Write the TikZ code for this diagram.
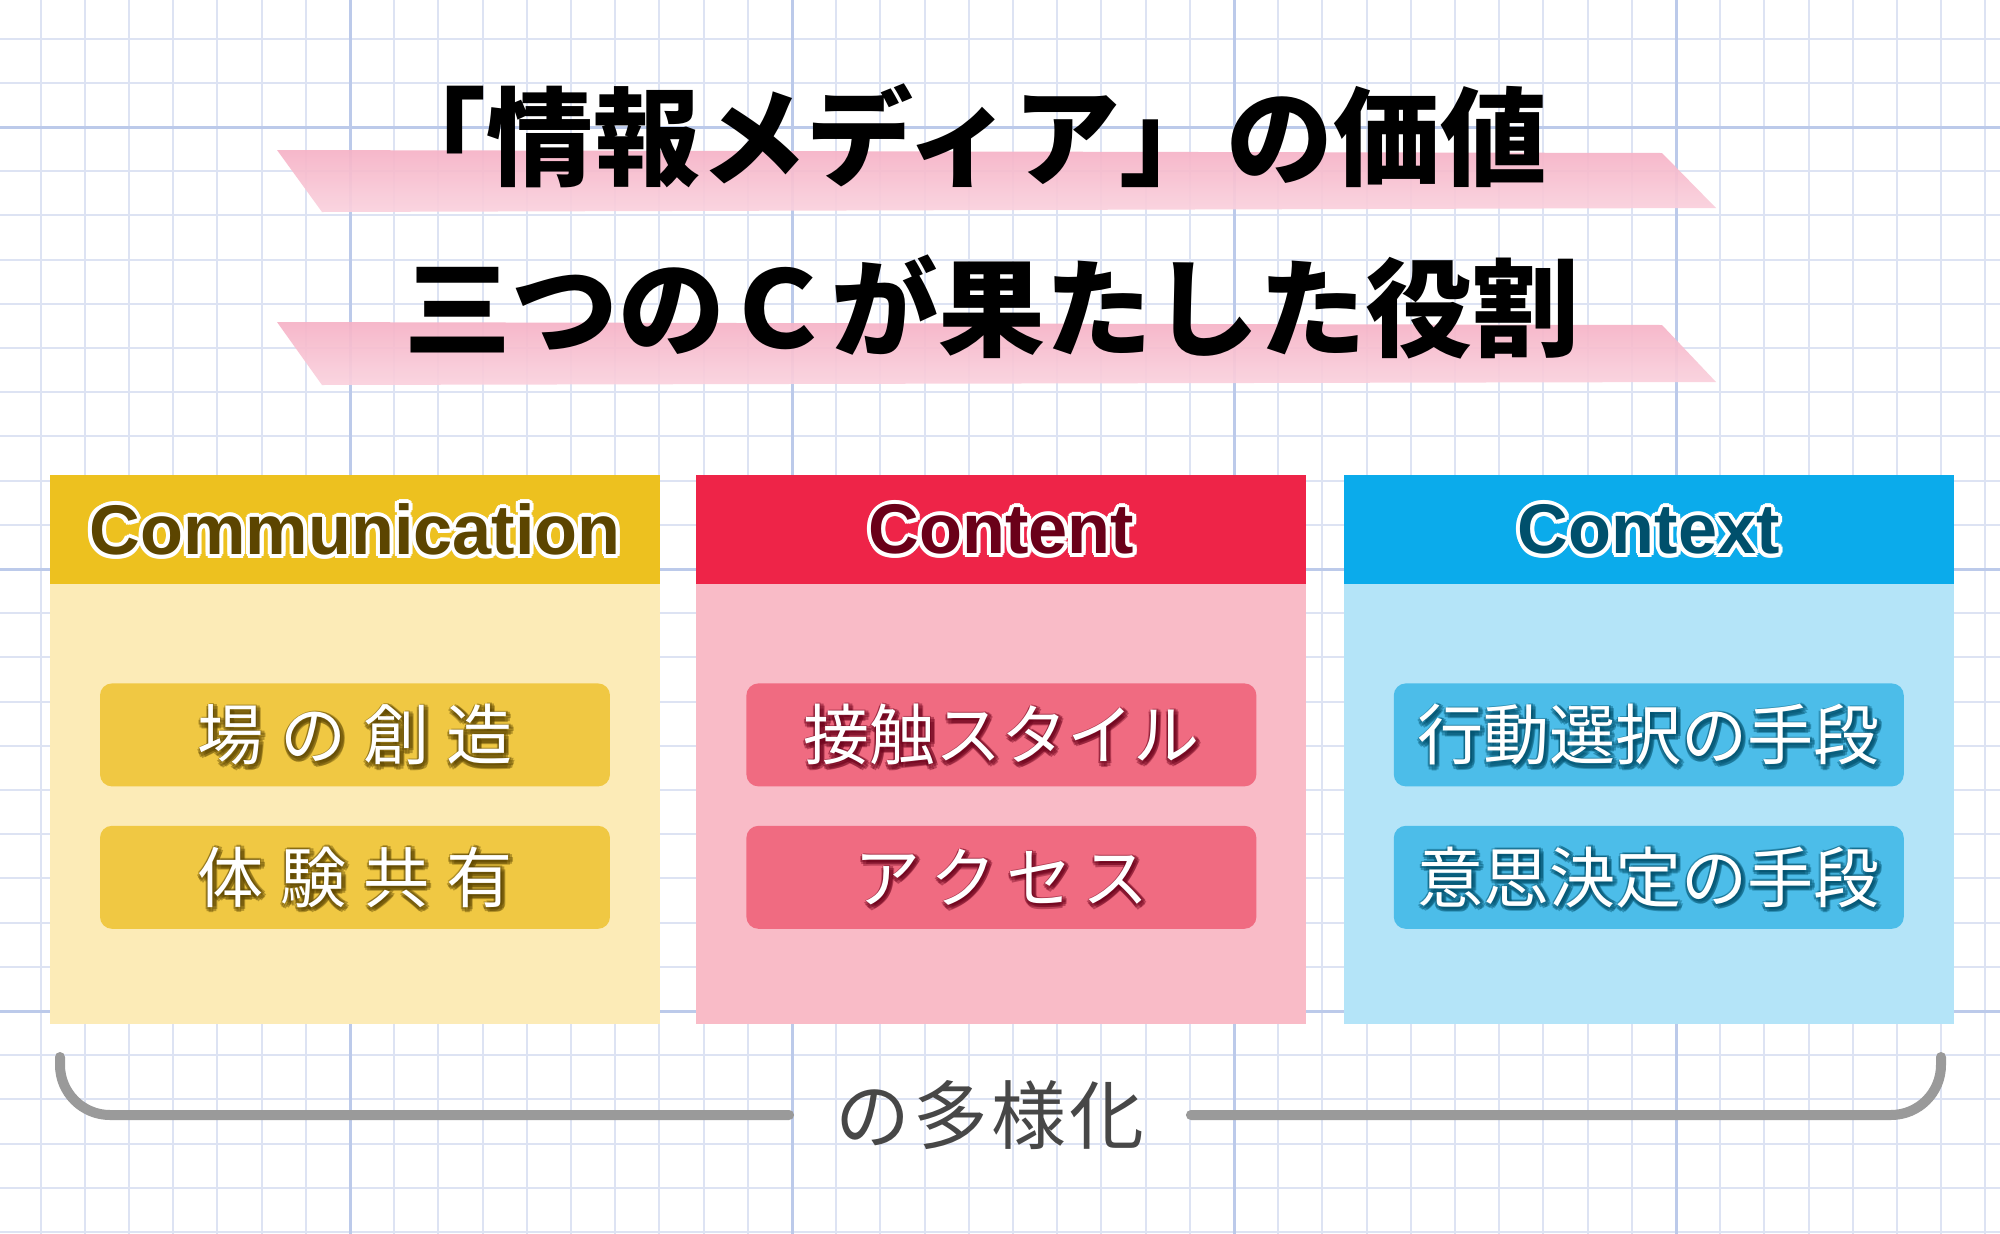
\documentclass[tikz,border=0pt]{standalone}
\usepackage{fontspec}
\setmainfont{Liberation Sans}
\newfontfamily\jpfont{Noto Sans CJK JP}
\usetikzlibrary{calc,positioning}

\definecolor{gridminor}{HTML}{DDE3F3}
\definecolor{gridmajor}{HTML}{BCCAEA}
\definecolor{brushtop}{HTML}{F6B2C6}
\definecolor{brushmid}{HTML}{F394B0}
\definecolor{brushbot}{HTML}{FAD2DE}
\definecolor{comhead}{HTML}{EDC11F}
\definecolor{combody}{HTML}{FCEBB7}
\definecolor{compill}{HTML}{F0C843}
\definecolor{comdark}{HTML}{5C4500}
\definecolor{conhead}{HTML}{EE2448}
\definecolor{conbody}{HTML}{F9BBC7}
\definecolor{conpill}{HTML}{F06B81}
\definecolor{condark}{HTML}{6A0019}
\definecolor{ctxhead}{HTML}{0BABEB}
\definecolor{ctxbody}{HTML}{B4E4F8}
\definecolor{ctxpill}{HTML}{4CBDE9}
\definecolor{ctxdark}{HTML}{00506C}
\definecolor{bracketgray}{HTML}{9A9A9A}
\definecolor{labelgray}{HTML}{474747}

% white ring round a text
\newcommand{\halo}[4]{%
  \foreach \a in {0,30,...,330}
    \node[#1,text=#3] at ($(#2)+(\a:4)$) {#4};}
% soft dark shadow under a text
\newcommand{\glow}[4]{%
  \foreach \a in {0,45,...,315}
    \node[#1,text=#3,text opacity=0.4] at ($(#2)+(1.5,2)+(\a:3.5)$) {#4};}

\begin{document}
\begin{tikzpicture}[x=0.1mm,y=-0.1mm,
  minor/.style={gridminor,line width=0.2mm},
  major/.style={gridmajor,line width=0.3mm},
  title/.style={font=\jpfont\bfseries\fontsize{30.4}{36}\selectfont,inner sep=0pt},
  headtxt/.style={font=\bfseries\fontsize{20}{24}\selectfont,inner sep=0pt},
  itemtxt/.style={font=\jpfont\fontsize{18.8}{22}\selectfont,inner sep=0pt},
  colbox/.style={minimum width=61mm,minimum height=54.9mm,inner sep=0pt},
  head/.style={minimum width=61mm,minimum height=10.9mm,inner sep=0pt},
  pill/.style={rounded corners=1.2mm,minimum width=51mm,minimum height=10.3mm,inner sep=0pt},
  bracket/.style={bracketgray,line width=1mm,rounded corners=5mm,line cap=round}]

\useasboundingbox (0,0) rectangle (2000,1234);
\fill[white] (0,0) rectangle (2000,1234);

% grid paper
\foreach \k in {-7,...,37}
  \draw[minor] ({350+44.2*\k},0) -- ++(0,1234);
\foreach \k in {-2,...,25}
  \draw[minor] (0,{127+44.2*\k}) -- ++(2000,0);
\foreach \k in {0,...,3}
  \draw[major] ({350+442*\k},0) -- ++(0,1234);
\foreach \k in {0,1,2}
  \draw[major] (0,{127+442*\k}) -- ++(2000,0);

% marker strokes
\shade[top color=brushtop, middle color=brushmid, bottom color=brushbot, fill opacity=0.92]
  (277,150) -- (1662,153) -- (1716,208) -- (322,212) -- cycle;
\shade[top color=brushtop, middle color=brushmid, bottom color=brushbot, fill opacity=0.92]
  (277,322) -- (1662,325) -- (1716,382) -- (322,385) -- cycle;

\node[title,anchor=east] (ttl1) at (1548,136) {「情報メディア」の価値};
\node[title] (ttl2) at (992,307) {三つのＣが果たした役割};

% columns
\node[colbox,fill=combody] (b1) at (355,749.5) {};
\node[colbox,fill=conbody,right=3.5mm of b1] (b2) {};
\node[colbox,fill=ctxbody,right=3.6mm of b2] (b3) {};

\node[head,fill=comhead,anchor=north] (h1) at (b1.north) {};
\node[head,fill=conhead,anchor=north] (h2) at (b2.north) {};
\node[head,fill=ctxhead,anchor=north] (h3) at (b3.north) {};

\halo{headtxt}{h1}{white}{Communication}
\node[headtxt,text=comdark] (com) at (h1) {Communication};
\halo{headtxt}{h2}{white}{Content}
\node[headtxt,text=condark] (con) at (h2) {Content};
\halo{headtxt}{h3}{white}{Context}
\node[headtxt,text=ctxdark] (ctx) at (h3) {Context};

\node[pill,fill=compill,below=9.8mm of h1] (p11) {};
\node[pill,fill=compill,below=3.8mm of p11] (p12) {};
\node[pill,fill=conpill,below=9.8mm of h2] (p21) {};
\node[pill,fill=conpill,below=3.8mm of p21] (p22) {};
\node[pill,fill=ctxpill,below=9.8mm of h3] (p31) {};
\node[pill,fill=ctxpill,below=3.8mm of p31] (p32) {};

\glow{itemtxt}{p11}{comdark}{場\kern1.7mm の\kern1.7mm 創\kern1.7mm 造}
\node[itemtxt,text=white] (t11) at (p11) {場\kern1.7mm の\kern1.7mm 創\kern1.7mm 造};
\glow{itemtxt}{p12}{comdark}{体\kern1.7mm 験\kern1.7mm 共\kern1.7mm 有}
\node[itemtxt,text=white] (t12) at (p12) {体\kern1.7mm 験\kern1.7mm 共\kern1.7mm 有};
\glow{itemtxt}{p21}{condark}{接触スタイル}
\node[itemtxt,text=white] (t21) at (p21) {接触スタイル};
\glow{itemtxt}{p22}{condark}{ア\kern1mm ク\kern1mm セ\kern1mm ス}
\node[itemtxt,text=white] (t22) at (p22) {ア\kern1mm ク\kern1mm セ\kern1mm ス};
\glow{itemtxt}{p31}{ctxdark}{行動選択の手段}
\node[itemtxt,text=white] (t31) at (p31) {行動選択の手段};
\glow{itemtxt}{p32}{ctxdark}{意思決定の手段}
\node[itemtxt,text=white] (t32) at (p32) {意思決定の手段};

% bracket under the columns
\node[font=\jpfont\fontsize{21.3}{26}\selectfont,text=labelgray,inner xsep=4.6mm,inner ysep=0pt] (vary) at (990,1115) {の\kern0.3mm 多\kern0.3mm 様\kern0.3mm 化};
\coordinate (bl) at (60,1057);
\coordinate (br) at (1941,1057);
\draw[bracket] (bl) |- (vary.west);
\draw[bracket] (vary.east) -| (br);

\end{tikzpicture}
\end{document}
